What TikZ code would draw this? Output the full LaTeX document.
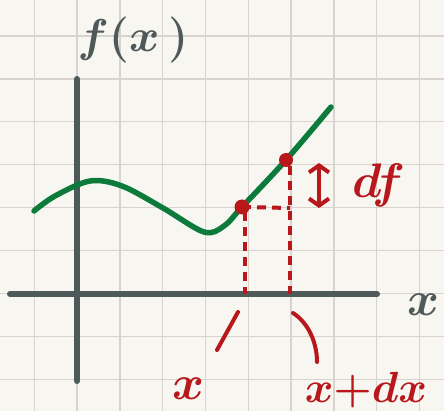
\documentclass[tikz,border=0pt]{standalone}
\usepackage{graphicx}
\usetikzlibrary{arrows.meta}
\definecolor{paper}{HTML}{F8F6F1}
\definecolor{gridc}{HTML}{D8D3CE}
\definecolor{axisc}{HTML}{4E5959}
\definecolor{curvec}{HTML}{0B7A3B}
\definecolor{redc}{HTML}{B8181C}
\newcommand{\handtxt}[2][1.85]{\scalebox{#1}{\Huge\boldmath$#2$}}
\begin{document}
\begin{tikzpicture}[x=1pt,y=-1pt,
  gridline/.style={gridc,line width=1.4pt},
  axisline/.style={axisc,line width=6pt,line cap=round},
  curveline/.style={curvec,line width=5.5pt,line cap=round,line join=round},
  dashline/.style={redc,line width=4pt,dash pattern=on 9pt off 6pt},
  redstroke/.style={redc,line width=4pt,line cap=round},
  dotmark/.style={fill=redc},
  handtext/.style={inner sep=0pt}]
\useasboundingbox (0,0) rectangle (444,411);
\fill[paper] (0,0) rectangle (444,411);
\foreach \i in {0,...,9} \draw[gridline] ({34.3+42.8*\i},0) -- ({34.3+42.8*\i},411);
\foreach \j in {0,...,8} \draw[gridline] (0,{36+42.9*\j}) -- (444,{36+42.9*\j});
% axes
\coordinate (xa0) at (10,294);
\coordinate (xa1) at (377,294);
\coordinate (ya0) at (77,79);
\coordinate (ya1) at (77,381);
\draw[axisline] (xa0) -- (xa1);
\draw[axisline] (ya0) -- (ya1);
% points
\coordinate (P1) at (242,207);
\coordinate (P2) at (286,160);
\coordinate (C1) at (245,294);
\coordinate (C2) at (290,294);
\coordinate (Q) at (290,208);
\coordinate (Q2) at (290,166);
% dashed
\draw[dashline] (P1) -- (Q);
\draw[dashline] (245,212) -- (C1);
\draw[dashline] (Q2) -- (C2);
% curve
\draw[curveline] plot[smooth,tension=0.55] coordinates {(34,211) (55,196) (90,181) (122,186) (163,208) (204,232) (224,226) (242,207) (286,160) (331,107)};
\fill[dotmark] (P1) circle (7.5);
\fill[dotmark] (P2) circle (7);
% double arrow
\coordinate (A0) at (319,163);
\coordinate (A1) at (319,208);
\draw[redstroke,{Straight Barb[length=7pt,width=20pt]}-{Straight Barb[length=7pt,width=20pt]}] (A0) -- (A1);
% ticks
\coordinate (T1a) at (238,312);
\coordinate (T1b) at (217,350);
\coordinate (T2a) at (293,313);
\coordinate (T2b) at (317,362);
\draw[redstroke] (T1a) -- (T1b);
\draw[redstroke] (T2a) .. controls (310,324) and (317,345) .. (T2b);
% labels
\node[handtext,text=axisc] (fx) at (133,40) {\handtxt{f(x\,)}};
\node[handtext,text=axisc] (xl) at (423,305) {\handtxt[1.95]{x}};
\node[handtext,text=redc] (df) at (379,185) {\handtxt[1.95]{df}};
\node[handtext,text=redc] (xlab) at (188,389) {\handtxt[1.95]{x}};
\node[handtext,text=redc] (xdx) at (366,390) {\handtxt[1.75]{x{+}dx}};
\end{tikzpicture}
\end{document}
